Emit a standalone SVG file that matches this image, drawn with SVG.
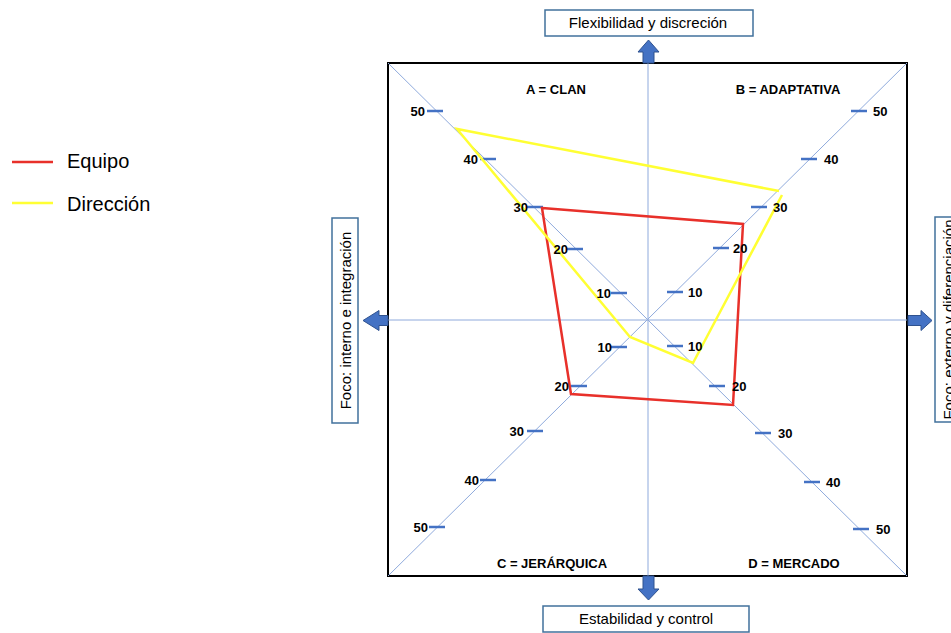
<svg xmlns="http://www.w3.org/2000/svg" width="951" height="633" viewBox="0 0 951 633">
<style>
.lbl{font-family:"Liberation Sans",Arial,sans-serif;font-size:15px;fill:#000}
.q{font-family:"Liberation Sans",Arial,sans-serif;font-size:13px;font-weight:bold;fill:#000}
.n{font-family:"Liberation Sans",Arial,sans-serif;font-size:13px;font-weight:bold;fill:#000}
.leg{font-family:"Liberation Sans",Arial,sans-serif;font-size:20px;fill:#000}
.box{fill:#fff;stroke:#41719C;stroke-width:1.5}
.arrow{fill:#4472C4;stroke:#2F528F;stroke-width:1}
.axis{stroke:#8FAADC;stroke-width:1;fill:none}
.tick{stroke:#4472C4;stroke-width:2.5}
</style>
<rect width="951" height="633" fill="#fff"/>
<g id="legend">
<line x1="12" y1="162" x2="53" y2="162" stroke="#E8302A" stroke-width="2.5"/>
<text class="leg" x="67" y="168">Equipo</text>
<line x1="12" y1="203" x2="53" y2="203" stroke="#FFFF33" stroke-width="2.5"/>
<text class="leg" x="67" y="211">Dirección</text>
</g>
<g id="frame">
<rect x="388" y="63" width="519" height="513" fill="#fff" stroke="#000" stroke-width="2"/>
</g>
<g id="connectors">
<line class="axis" x1="388" y1="63" x2="907" y2="576"/>
<line class="axis" x1="388" y1="576" x2="907" y2="63"/>
<line class="axis" x1="648" y1="63" x2="648" y2="576"/>
<line class="axis" x1="388" y1="320" x2="907" y2="320"/>
<path class="arrow" d="M643,63 V52 H638 L648.5,40 L659,52 H654 V63 Z"/>
<path class="arrow" d="M643,576 V589 H638 L648.5,600 L659,589 H654 V576 Z"/>
<path class="arrow" d="M388,315.5 H379 V310.5 L363,320.5 L379,330.5 V325.5 H388 Z"/>
<path class="arrow" d="M908,315.5 H921 V310.5 L932,320.5 L921,330.5 V325.5 H908 Z"/>
</g>
<g id="ticks">
<line class="tick" x1="427" y1="111" x2="443" y2="111"/>
<line class="tick" x1="480" y1="159" x2="496" y2="159"/>
<line class="tick" x1="527" y1="207" x2="543" y2="207"/>
<line class="tick" x1="567" y1="249" x2="583" y2="249"/>
<line class="tick" x1="611" y1="293" x2="627" y2="293"/>
<line class="tick" x1="851" y1="111" x2="867" y2="111"/>
<line class="tick" x1="801" y1="159" x2="817" y2="159"/>
<line class="tick" x1="751" y1="207" x2="767" y2="207"/>
<line class="tick" x1="713" y1="248" x2="729" y2="248"/>
<line class="tick" x1="667" y1="292" x2="683" y2="292"/>
<line class="tick" x1="611" y1="347" x2="627" y2="347"/>
<line class="tick" x1="571" y1="386" x2="587" y2="386"/>
<line class="tick" x1="527" y1="431" x2="543" y2="431"/>
<line class="tick" x1="480" y1="480" x2="496" y2="480"/>
<line class="tick" x1="429" y1="527" x2="445" y2="527"/>
<line class="tick" x1="667" y1="346" x2="683" y2="346"/>
<line class="tick" x1="709" y1="386" x2="725" y2="386"/>
<line class="tick" x1="755" y1="433" x2="771" y2="433"/>
<line class="tick" x1="804" y1="482" x2="820" y2="482"/>
<line class="tick" x1="853" y1="529" x2="869" y2="529"/>
</g>
<g id="series-equipo">
<polygon points="542,208 743,224 733,405 571,394" fill="none" stroke="#E8302A" stroke-width="2.5" stroke-linejoin="miter"/>
</g>
<g id="series-direccion">
<path d="M779,191 L457,129 L630,337 L693,363 L782,195" fill="none" stroke="#FFFF33" stroke-width="2.5"/>
</g>
<g id="scale-labels">
<text class="n" text-anchor="end" x="425" y="116">50</text>
<text class="n" text-anchor="end" x="478" y="164">40</text>
<text class="n" text-anchor="end" x="528" y="212">30</text>
<text class="n" text-anchor="end" x="568" y="254">20</text>
<text class="n" text-anchor="end" x="611" y="298">10</text>
<text class="n" x="873" y="116">50</text>
<text class="n" x="824" y="164">40</text>
<text class="n" x="773" y="212">30</text>
<text class="n" x="733" y="253">20</text>
<text class="n" x="688" y="297">10</text>
<text class="n" text-anchor="end" x="612" y="352">10</text>
<text class="n" text-anchor="end" x="569" y="391">20</text>
<text class="n" text-anchor="end" x="524" y="436">30</text>
<text class="n" text-anchor="end" x="479" y="485">40</text>
<text class="n" text-anchor="end" x="428" y="532">50</text>
<text class="n" x="688" y="351">10</text>
<text class="n" x="732" y="391">20</text>
<text class="n" x="778" y="438">30</text>
<text class="n" x="826" y="487">40</text>
<text class="n" x="876" y="534">50</text>
</g>
<g id="quadrant-A"><text class="q" text-anchor="middle" x="556" y="94">A = CLAN</text></g>
<g id="quadrant-B"><text class="q" text-anchor="middle" x="788" y="94">B = ADAPTATIVA</text></g>
<g id="quadrant-C"><text class="q" text-anchor="middle" x="552" y="568">C = JERÁRQUICA</text></g>
<g id="quadrant-D"><text class="q" text-anchor="middle" x="794" y="568">D = MERCADO</text></g>
<g id="node-top">
<rect class="box" x="545" y="10" width="208" height="26"/>
<text class="lbl" text-anchor="middle" x="648" y="28">Flexibilidad y discreción</text>
</g>
<g id="node-bottom">
<rect class="box" x="543" y="606" width="206" height="26"/>
<text class="lbl" text-anchor="middle" x="646" y="624">Estabilidad y control</text>
</g>
<g id="node-left">
<rect class="box" x="332" y="218" width="26" height="205"/>
<text class="lbl" text-anchor="middle" transform="translate(351,320.5) rotate(-90)">Foco: interno e integración</text>
</g>
<g id="node-right">
<rect class="box" x="935" y="217" width="26" height="205"/>
<text class="lbl" text-anchor="middle" transform="translate(954,319.5) rotate(-90)">Foco: externo y diferenciación</text>
</g>
</svg>
